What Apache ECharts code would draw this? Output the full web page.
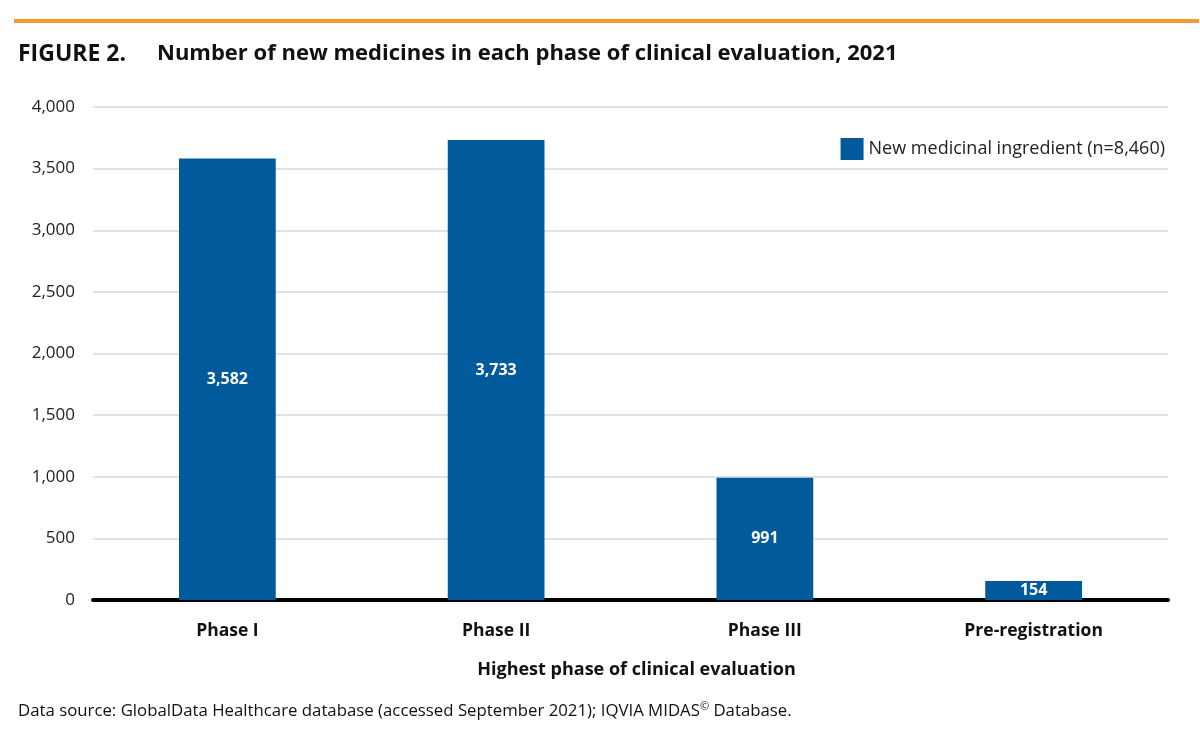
<!DOCTYPE html>
<html><head><meta charset="utf-8">
<script src="https://cdn.jsdelivr.net/npm/echarts@6/dist/echarts.min.js"></script>
<style>html,body{margin:0;padding:0;background:#fff}#c{width:1200px;height:738px}</style>
</head><body><div id="c"></div>
<script>
const categories = ['Phase I', 'Phase II', 'Phase III', 'Pre-registration'];
const values = [3582, 3733, 991, 154];
const seriesName = 'New medicinal ingredient (n=8,460)';
const yTicks = [0, 500, 1000, 1500, 2000, 2500, 3000, 3500, 4000];

const FONT = '"Open Sans", "Noto Sans", sans-serif';
const chart = echarts.init(document.getElementById('c'));
chart.setOption({
  backgroundColor: '#fff',
  animation: false,
  textStyle: { fontFamily: FONT },
  graphic: [
    { type: 'rect', left: 14, top: 19, shape: { width: 1185, height: 4 }, style: { fill: '#F39A32' } },
    { type: 'text', left: 18, top: 43, style: { text: 'FIGURE 2.', font: 'bold 23px ' + FONT, fill: '#111' } },
    { type: 'text', left: 157, top: 43, style: { text: 'Number of new medicines in each phase of clinical evaluation, 2021', font: 'bold 22px ' + FONT, fill: '#111' } },
    { type: 'text', left: 18, top: 701, style: {
        text: 'Data source: GlobalData Healthcare database (accessed September 2021); IQVIA MIDAS{s|©} Database.',
        font: '16.8px ' + FONT, fill: '#111',
        rich: { s: { fontSize: 11, verticalAlign: 'top', padding: [0, 0, 10, 0], fontFamily: FONT, fill: '#111' } }
      } }
  ],
  legend: {
    top: 133, right: 30, itemWidth: 23, itemHeight: 22, itemGap: 8, icon: 'rect',
    textStyle: { fontSize: 18, color: '#222', fontFamily: FONT },
    data: [seriesName]
  },
  grid: { left: 93, right: 32, top: 107, bottom: 138 },
  xAxis: {
    type: 'category', data: categories,
    axisLine: { lineStyle: { color: '#000', width: 4 } },
    axisTick: { show: false },
    axisLabel: { fontSize: 17.5, fontWeight: 'bold', color: '#111', margin: 22 },
    name: 'Highest phase of clinical evaluation', nameLocation: 'middle', nameGap: 61,
    nameTextStyle: { fontSize: 18, fontWeight: 'bold', color: '#111', padding: [0, 0, 0, 12] }
  },
  yAxis: {
    type: 'value', min: 0, max: 4000, interval: 500,
    axisLine: { show: false }, axisTick: { show: false },
    splitLine: { lineStyle: { color: '#d9d9d9', width: 1.5 } },
    axisLabel: { fontSize: 17, color: '#222', margin: 18, formatter: v => v.toLocaleString('en-US') }
  },
  series: [{
    name: seriesName, type: 'bar', data: values, barWidth: '36%',
    itemStyle: { color: '#005A9C' },
    label: { show: true, position: 'inside', color: '#fff', fontWeight: 'bold', fontSize: 16,
      formatter: p => p.value.toLocaleString('en-US') }
  }]
});
</script></body></html>
